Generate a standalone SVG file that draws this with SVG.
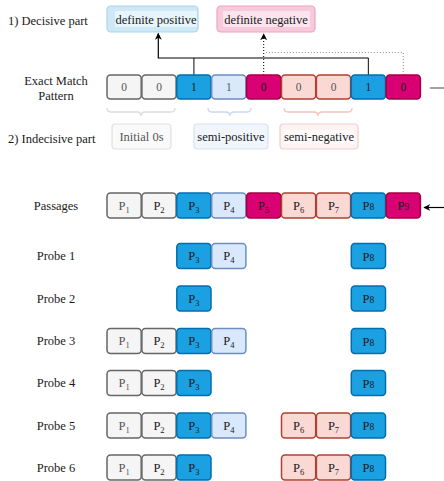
<svg xmlns="http://www.w3.org/2000/svg" width="444" height="481" viewBox="0 0 444 481" font-family="'Liberation Serif', 'Times New Roman', serif">
<defs>
<style>
text{font-family:'Liberation Serif','Times New Roman',serif;fill:#1a1a1a}
.lbl{font-size:12.5px}
.mid{text-anchor:middle}
.c{stroke-width:1.5}
.g{fill:#f5f5f5;stroke:#666666}
.b{fill:#1ba1e2;stroke:#006eaf}
.lb{fill:#dae8fc;stroke:#6c8ebf}
.m{fill:#d80073;stroke:#a50040}
.r{fill:#fad9d5;stroke:#ae4132}
.ct{font-size:11.5px;text-anchor:middle}
.pt{font-size:12.5px;text-anchor:middle}
.gt{fill:#555555}
.sub{font-size:8.5px}
.sub2{font-size:9.5px}
</style>
<marker id="ah" viewBox="0 0 10 10" refX="9" refY="5" markerWidth="7" markerHeight="7" orient="auto" markerUnits="userSpaceOnUse">
<path d="M0,0 L10,5 L0,10 L3,5 Z" fill="#000"/>
</marker>
</defs>
<rect width="444" height="481" fill="#ffffff"/>

<!-- Left labels -->
<g id="labels">
<text class="lbl" x="8" y="25">1) Decisive part</text>
<text class="lbl mid" x="56" y="85">Exact Match</text>
<text class="lbl mid" x="56" y="100">Pattern</text>
<text class="lbl" x="8" y="143">2) Indecisive part</text>
<text class="lbl mid" x="56" y="210">Passages</text>
<text class="lbl mid" x="56" y="260">Probe 1</text>
<text class="lbl mid" x="56" y="303">Probe 2</text>
<text class="lbl mid" x="56" y="345">Probe 3</text>
<text class="lbl mid" x="56" y="387">Probe 4</text>
<text class="lbl mid" x="56" y="430">Probe 5</text>
<text class="lbl mid" x="56" y="472">Probe 6</text>
</g>

<!-- Decisive boxes -->
<g id="definite-positive">
<rect x="107" y="6" width="91" height="26" rx="4" fill="#cfe8f5" stroke="#a9d5ec" stroke-width="1.2"/>
<rect x="115" y="11" width="82" height="16" fill="#e6f4fb"/>
<text class="lbl mid" x="156" y="23.5">definite positive</text>
</g>
<g id="definite-negative">
<rect x="217" y="6" width="98" height="26" rx="4" fill="#f7cadb" stroke="#eda2c0" stroke-width="1.2"/>
<rect x="223" y="11" width="87" height="16" fill="#fbe4ed"/>
<text class="lbl mid" x="266" y="23.5">definite negative</text>
</g>

<!-- Connectors -->
<g id="connectors" fill="none">
<path d="M193.9,75 V58 M368.4,75 V58" stroke="#333" stroke-width="1.2"/>
<path d="M368.4,58 H158.3 V33.5" stroke="#000" stroke-width="1.2" marker-end="url(#ah)"/>
<path d="M263.7,75 V34" stroke="#000" stroke-width="1" stroke-dasharray="1,2" marker-end="url(#ah)"/>
<path d="M403.3,75 V52.5 H266" stroke="#8a8a8a" stroke-width="1" stroke-dasharray="1,2"/>
<path d="M430,88 H444" stroke="#666" stroke-width="1.2"/>
<path d="M444,207.5 H424" stroke="#000" stroke-width="1.2" marker-end="url(#ah)"/>
</g>

<!-- Exact match pattern -->
<g id="pattern">
<rect class="c g" x="107" y="75" width="34.2" height="24" rx="3.5"/><text class="ct gt" x="124.1" y="91">0</text>
<rect class="c g" x="141.9" y="75" width="34.2" height="24" rx="3.5"/><text class="ct gt" x="159" y="91">0</text>
<rect class="c b" x="176.8" y="75" width="34.2" height="24" rx="3.5"/><text class="ct" x="193.9" y="91">1</text>
<rect class="c lb" x="211.7" y="75" width="34.2" height="24" rx="3.5"/><text class="ct gt" x="228.8" y="91">1</text>
<rect class="c m" x="246.6" y="75" width="34.2" height="24" rx="3.5"/><text class="ct" x="263.7" y="91">0</text>
<rect class="c r" x="281.5" y="75" width="34.2" height="24" rx="3.5"/><text class="ct gt" x="298.6" y="91">0</text>
<rect class="c r" x="316.4" y="75" width="34.2" height="24" rx="3.5"/><text class="ct gt" x="333.5" y="91">0</text>
<rect class="c b" x="351.3" y="75" width="34.2" height="24" rx="3.5"/><text class="ct" x="368.4" y="91">1</text>
<rect class="c m" x="386.2" y="75" width="34.2" height="24" rx="3.5"/><text class="ct" x="403.3" y="91">0</text>
</g>

<!-- Braces -->
<g id="braces" fill="none" stroke-width="1.3">
<path d="M107,108 Q107,112 111,112 H137 Q141,112 141,116 Q141,112 145,112 H171 Q175,112 175,108" stroke="#dcdcdc"/>
<path d="M208,108 Q208,112 212,112 H226 Q230,112 230,116 Q230,112 234,112 H247 Q251,112 251,108" stroke="#c9d8ee"/>
<path d="M284,108 Q284,112 288,112 H314 Q318,112 318,116 Q318,112 322,112 H348 Q352,112 352,108" stroke="#f1c4bf"/>
</g>

<!-- Indecisive boxes -->
<g id="initial-0s">
<rect x="112" y="124" width="59" height="25" rx="3.5" fill="#fafafa" stroke="#e0e0e0" stroke-width="1.2"/>
<text class="lbl mid" x="141.5" y="141" style="fill:#555">Initial 0s</text>
</g>
<g id="semi-positive">
<rect x="194" y="124" width="74" height="25" rx="3.5" fill="#f1f6fd" stroke="#d6e2f3" stroke-width="1.2"/>
<text class="lbl mid" x="231" y="141">semi-positive</text>
</g>
<g id="semi-negative">
<rect x="280" y="124" width="78" height="25" rx="3.5" fill="#fdf3f2" stroke="#f1cfca" stroke-width="1.2"/>
<rect x="284" y="130" width="70" height="14" fill="#fefafa"/>
<text class="lbl mid" x="319" y="141">semi-negative</text>
</g>

<!-- Passages -->
<g id="passages">
<rect class="c g" x="107" y="193" width="34.2" height="25" rx="3.5"/><text class="pt gt" x="124.1" y="209.5">P<tspan class="sub" dy="3">1</tspan></text>
<rect class="c g" x="141.9" y="193" width="34.2" height="25" rx="3.5"/><text class="pt" x="159" y="209.5">P<tspan class="sub" dy="3">2</tspan></text>
<rect class="c b" x="176.8" y="193" width="34.2" height="25" rx="3.5"/><text class="pt" x="193.9" y="209.5">P<tspan class="sub" dy="3">3</tspan></text>
<rect class="c lb" x="211.7" y="193" width="34.2" height="25" rx="3.5"/><text class="pt" x="228.8" y="209.5">P<tspan class="sub" dy="3">4</tspan></text>
<rect class="c m" x="246.6" y="193" width="34.2" height="25" rx="3.5"/><text class="pt" x="263.7" y="209.5">P<tspan class="sub" dy="3">5</tspan></text>
<rect class="c r" x="281.5" y="193" width="34.2" height="25" rx="3.5"/><text class="pt" x="298.6" y="209.5">P<tspan class="sub" dy="3">6</tspan></text>
<rect class="c r" x="316.4" y="193" width="34.2" height="25" rx="3.5"/><text class="pt" x="333.5" y="209.5">P<tspan class="sub" dy="3">7</tspan></text>
<rect class="c b" x="351.3" y="193" width="34.2" height="25" rx="3.5"/><text class="pt" x="368.4" y="210">P<tspan class="sub2">8</tspan></text>
<rect class="c m" x="386.2" y="193" width="34.2" height="25" rx="3.5"/><text class="pt" x="403.3" y="210">P<tspan class="sub2">9</tspan></text>
</g>

<!-- Probe 1 -->
<g id="probe-1">
<rect class="c b" x="176.8" y="243.5" width="34.2" height="25" rx="3.5"/><text class="pt" x="193.9" y="260">P<tspan class="sub" dy="3">3</tspan></text>
<rect class="c lb" x="211.7" y="243.5" width="34.2" height="25" rx="3.5"/><text class="pt" x="228.8" y="260">P<tspan class="sub" dy="3">4</tspan></text>
<rect class="c b" x="351.3" y="243.5" width="34.2" height="25" rx="3.5"/><text class="pt" x="368.4" y="260.5">P<tspan class="sub2">8</tspan></text>
</g>

<!-- Probe 2 -->
<g id="probe-2">
<rect class="c b" x="176.8" y="286" width="34.2" height="25" rx="3.5"/><text class="pt" x="193.9" y="302.5">P<tspan class="sub" dy="3">3</tspan></text>
<rect class="c b" x="351.3" y="286" width="34.2" height="25" rx="3.5"/><text class="pt" x="368.4" y="303">P<tspan class="sub2">8</tspan></text>
</g>

<!-- Probe 3 -->
<g id="probe-3">
<rect class="c g" x="107" y="328.5" width="34.2" height="25" rx="3.5"/><text class="pt gt" x="124.1" y="345">P<tspan class="sub" dy="3">1</tspan></text>
<rect class="c g" x="141.9" y="328.5" width="34.2" height="25" rx="3.5"/><text class="pt" x="159" y="345">P<tspan class="sub" dy="3">2</tspan></text>
<rect class="c b" x="176.8" y="328.5" width="34.2" height="25" rx="3.5"/><text class="pt" x="193.9" y="345">P<tspan class="sub" dy="3">3</tspan></text>
<rect class="c lb" x="211.7" y="328.5" width="34.2" height="25" rx="3.5"/><text class="pt" x="228.8" y="345">P<tspan class="sub" dy="3">4</tspan></text>
<rect class="c b" x="351.3" y="328.5" width="34.2" height="25" rx="3.5"/><text class="pt" x="368.4" y="345.5">P<tspan class="sub2">8</tspan></text>
</g>

<!-- Probe 4 -->
<g id="probe-4">
<rect class="c g" x="107" y="370.5" width="34.2" height="25" rx="3.5"/><text class="pt gt" x="124.1" y="387">P<tspan class="sub" dy="3">1</tspan></text>
<rect class="c g" x="141.9" y="370.5" width="34.2" height="25" rx="3.5"/><text class="pt" x="159" y="387">P<tspan class="sub" dy="3">2</tspan></text>
<rect class="c b" x="176.8" y="370.5" width="34.2" height="25" rx="3.5"/><text class="pt" x="193.9" y="387">P<tspan class="sub" dy="3">3</tspan></text>
<rect class="c b" x="351.3" y="370.5" width="34.2" height="25" rx="3.5"/><text class="pt" x="368.4" y="387.5">P<tspan class="sub2">8</tspan></text>
</g>

<!-- Probe 5 -->
<g id="probe-5">
<rect class="c g" x="107" y="413" width="34.2" height="25" rx="3.5"/><text class="pt gt" x="124.1" y="429.5">P<tspan class="sub" dy="3">1</tspan></text>
<rect class="c g" x="141.9" y="413" width="34.2" height="25" rx="3.5"/><text class="pt" x="159" y="429.5">P<tspan class="sub" dy="3">2</tspan></text>
<rect class="c b" x="176.8" y="413" width="34.2" height="25" rx="3.5"/><text class="pt" x="193.9" y="429.5">P<tspan class="sub" dy="3">3</tspan></text>
<rect class="c lb" x="211.7" y="413" width="34.2" height="25" rx="3.5"/><text class="pt" x="228.8" y="429.5">P<tspan class="sub" dy="3">4</tspan></text>
<rect class="c r" x="281.5" y="413" width="34.2" height="25" rx="3.5"/><text class="pt" x="298.6" y="429.5">P<tspan class="sub" dy="3">6</tspan></text>
<rect class="c r" x="316.4" y="413" width="34.2" height="25" rx="3.5"/><text class="pt" x="333.5" y="429.5">P<tspan class="sub" dy="3">7</tspan></text>
<rect class="c b" x="351.3" y="413" width="34.2" height="25" rx="3.5"/><text class="pt" x="368.4" y="430">P<tspan class="sub2">8</tspan></text>
</g>

<!-- Probe 6 -->
<g id="probe-6">
<rect class="c g" x="107" y="455" width="34.2" height="25" rx="3.5"/><text class="pt gt" x="124.1" y="471.5">P<tspan class="sub" dy="3">1</tspan></text>
<rect class="c g" x="141.9" y="455" width="34.2" height="25" rx="3.5"/><text class="pt" x="159" y="471.5">P<tspan class="sub" dy="3">2</tspan></text>
<rect class="c b" x="176.8" y="455" width="34.2" height="25" rx="3.5"/><text class="pt" x="193.9" y="471.5">P<tspan class="sub" dy="3">3</tspan></text>
<rect class="c r" x="281.5" y="455" width="34.2" height="25" rx="3.5"/><text class="pt" x="298.6" y="471.5">P<tspan class="sub" dy="3">6</tspan></text>
<rect class="c r" x="316.4" y="455" width="34.2" height="25" rx="3.5"/><text class="pt" x="333.5" y="471.5">P<tspan class="sub" dy="3">7</tspan></text>
<rect class="c b" x="351.3" y="455" width="34.2" height="25" rx="3.5"/><text class="pt" x="368.4" y="472">P<tspan class="sub2">8</tspan></text>
</g>
</svg>
